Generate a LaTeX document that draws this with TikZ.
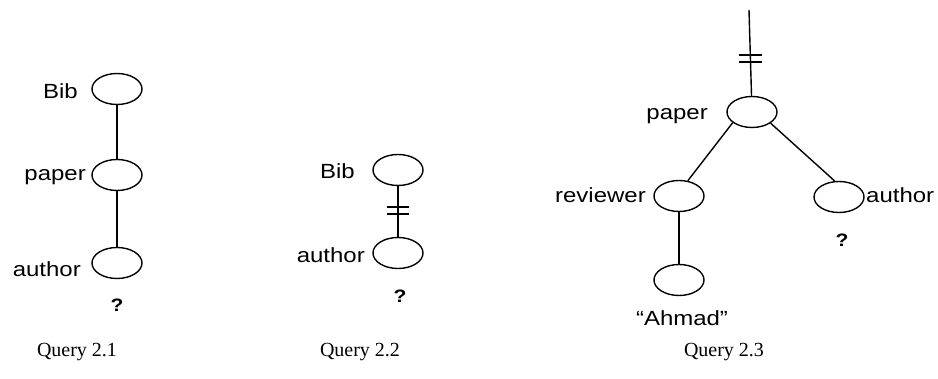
\documentclass[tikz,border=0pt]{standalone}
\usepackage{fontspec}
\usetikzlibrary{shapes.geometric}
\setmainfont[FakeStretch=1.17]{Liberation Sans}
\newfontfamily\capfont{Liberation Serif}
\begin{document}
\begin{tikzpicture}[x=1pt,y=-1pt,
  elem/.style={draw,line width=1.4pt,ellipse,minimum width=50pt,minimum height=31pt,inner sep=0pt},
  lbl/.style={font=\fontsize{20.5}{22}\selectfont,inner sep=0pt},
  qmark/.style={font=\fontsize{18}{20}\selectfont\bfseries,inner sep=0pt},
  caption/.style={font=\capfont\fontsize{20}{22}\selectfont,inner sep=0pt},
  edge/.style={line width=1.4pt},
  tick/.style={line width=1.4pt}]
\useasboundingbox (0,0) rectangle (938,379);

% Query 2.1
\node[elem] (b1) at (117,89) {};
\node[elem] (p1) at (117,175) {};
\node[elem] (a1) at (117,263) {};
\node[lbl,anchor=base east] (lb1) at (78,99) {Bib};
\node[lbl,anchor=base east] (lp1) at (86,181) {paper};
\node[lbl,anchor=base east] (la1) at (81,277) {author};
\node[qmark] (q1) at (117,305) {?};
\draw[edge] (b1) -- (p1);
\draw[edge] (p1) -- (a1);
\node[caption] (c1) at (77,352) {Query 2.1};

% Query 2.2
\node[elem] (b2) at (398,170) {};
\node[elem] (a2) at (398,253) {};
\node[lbl,anchor=base east] (lb2) at (355,179) {Bib};
\node[lbl,anchor=base east] (la2) at (365,263) {author};
\node[qmark] (q2) at (400,296) {?};
\draw[edge] (b2) -- (a2);
\draw[tick] (387,207) -- (409,207);
\draw[tick] (387,214) -- (409,214);
\node[caption] (c2) at (360,352) {Query 2.2};

% Query 2.3
\coordinate (top) at (749,10);
\node[elem] (p3) at (752,112) {};
\node[elem] (r3) at (679,196) {};
\node[elem] (a3) at (839,197) {};
\node[elem] (h3) at (679,280) {};
\node[lbl,anchor=base east] (lp3) at (708,120) {paper};
\node[lbl,anchor=base east] (lr3) at (646,203) {reviewer};
\node[lbl,anchor=base west] (la3) at (866,203) {author};
\node[lbl,anchor=base] (lh3) at (682,326) {``Ahmad''};
\node[qmark] (q3) at (842,240) {?};
\draw[edge] (top) -- (p3);
\draw[tick] (739,55) -- (762,55);
\draw[tick] (739,62) -- (762,62);
\draw[edge] (p3.209) -- (r3.60);
\draw[edge] (p3.329) -- (a3.105);
\draw[edge] (r3) -- (h3);
\node[caption] (c3) at (724,352) {Query 2.3};
\end{tikzpicture}
\end{document}
